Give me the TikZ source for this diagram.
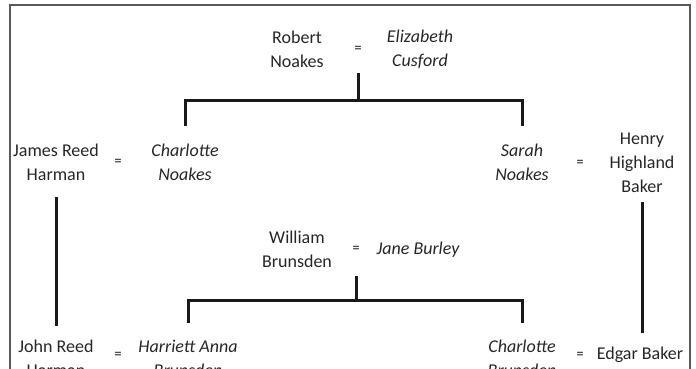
\documentclass[tikz,border=0pt]{standalone}
\usepackage{fontspec}
\setmainfont{Carlito}
\usetikzlibrary{calc}
\begin{document}
\begin{tikzpicture}[x=1pt,y=-1pt,
		person/.style={align=center,text=black!85,font=\fontsize{18}{24}\selectfont},
		spouse/.style={person,font=\fontsize{18}{24}\selectfont\itshape},
		eq/.style={text=black!70,font=\fontsize{14}{14}\selectfont\bfseries},
		tree/.style={line width=3pt,black!90}]
	\useasboundingbox (0,0) rectangle (696,369);
	\draw[black!65,line width=1.4pt] (10,369) -- (10,5) -- (690,5) -- (690,369);
	% first generation
	\node[person] (rn) at (297,49) {Robert\\Noakes};
	\node[spouse] (ec) at (420,49) {Elizabeth\\Cusford};
	% second generation
	\node[person] (jrh) at (56,162) {James Reed\\Harman};
	\node[spouse] (cn) at (185,162) {Charlotte\\Noakes};
	\node[spouse] (sn) at (522,162) {Sarah\\Noakes};
	\node[person] (hhb) at (642,163) {Henry\\Highland\\Baker};
	\node[person] (wb) at (297,249) {William\\Brunsden};
	\node[spouse] (jb) at (418,250) {Jane Burley};
	% third generation
	\node[person] (jnh) at (56,358) {John Reed\\Harman};
	\node[spouse] (hab) at (188,358) {Harriett Anna\\Brunsden};
	\node[spouse] (cb) at (522,358) {Charlotte\\Brunsden};
	\node[person] (eb) at (640,355) {Edgar Baker};
	\foreach \n/\x/\y in {e1/358/49,e2/118/162,e3/580/163,e4/356/249,e5/118/355,e6/580/355}{
			\node[eq] (\n) at (\x,\y) {=};
		}
	% Noakes children
	\draw[tree] ($(e1)+(0,24)$) -- ++(0,27) coordinate (b1);
	\draw[tree,shorten >=14pt] (b1) -| (cn);
	\draw[tree,shorten >=14pt] (b1) -| (sn);
	% Brunsden children
	\draw[tree] ($(e4)+(0,27)$) -- ++(0,24) coordinate (b2);
	\draw[tree,shorten >=13pt] (b2) -| (hab);
	\draw[tree,shorten >=13pt] (b2) -| (cb);
	% sons
	\draw[tree,shorten <=13pt,shorten >=10pt] (jrh) -- (jnh);
	\draw[tree,shorten <=6pt,shorten >=22pt] (hhb) -- (hhb |- eb);
\end{tikzpicture}
\end{document}
